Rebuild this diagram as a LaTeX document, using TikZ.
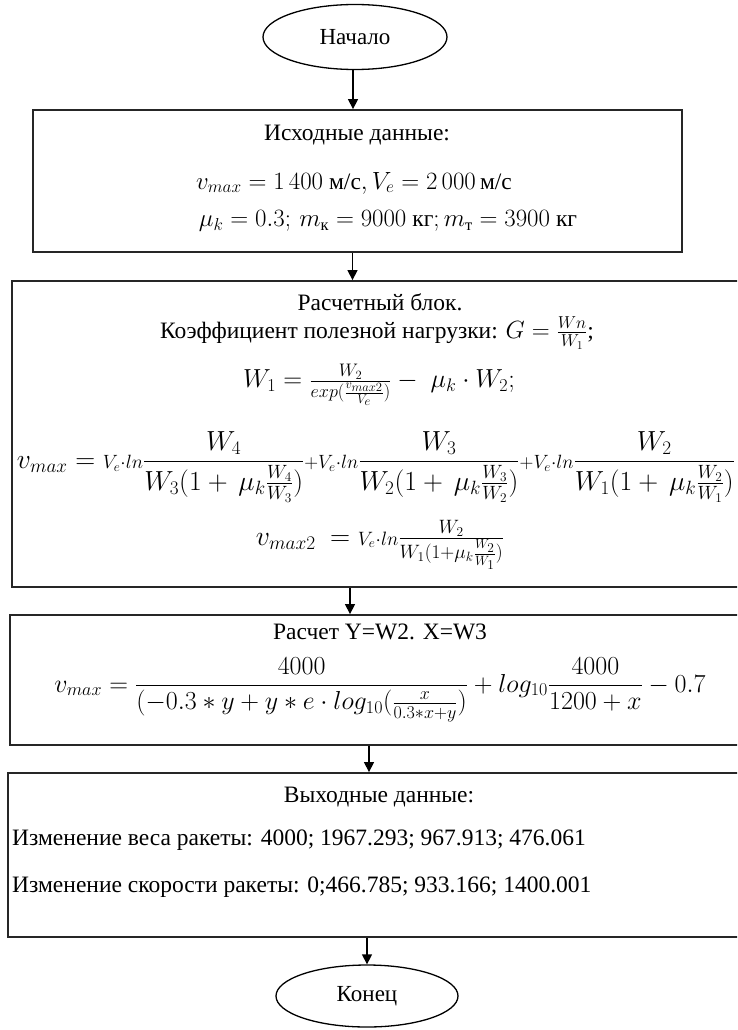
\documentclass[tikz,border=0pt]{standalone}
\usepackage{amsmath}
\usepackage{graphicx}
\usepackage{fontspec}
\setmainfont{Liberation Serif}
\usetikzlibrary{arrows.meta,positioning,shapes.geometric}

\begin{document}
\begin{tikzpicture}[x=1pt, y=-1pt,
  term/.style={ellipse, draw, line width=1.3pt, inner sep=0pt, font=\fontsize{23}{27}\selectfont},
  blok/.style={draw=black!85, line width=1.8pt, inner sep=0pt},
  txt/.style={inner sep=0pt, font=\fontsize{23.5}{28}\selectfont},
  flow/.style={-{Triangle[length=10pt,width=10pt]}, line width=1.3pt}]
\useasboundingbox (0,0) rectangle (737,1030);
\clip (0,0) rectangle (737,1030);

% Start and end
\node[term, minimum width=184pt, minimum height=65pt] (start) at (355,37) {Начало};
\node[term, minimum width=182pt, minimum height=62pt] (stop) at (367,996) {Конец};

% Blocks
\node[blok, minimum width=649pt, minimum height=142pt] (in) at (357.5,181) {};
\node[blok, minimum width=736pt, minimum height=306pt] (calc) at (380,434) {};
\node[blok, minimum width=740pt, minimum height=130pt] (run) at (380,680) {};
\node[blok, minimum width=742pt, minimum height=164pt] (out) at (379,855) {};

% Input data
\node[txt] (in1) at (357,135) {Исходные данные:};
\node[txt] (in2) at (354,183) {$v_{max} = 1\,400\ \text{м/с}, V_e = 2\,000\,\text{м/с}$};
\node[txt] (in3) at (388,221) {$\mu_k = 0.3;\, m_{\text{к}} = 9000\ \text{кг}; m_{\text{т}} = 3900\ \text{кг}$};

% Calculation block
\node[txt] (c1) at (380,302) {Расчетный блок.};
\node[txt] (c2) at (377,333) {Коэффициент полезной нагрузки: $G = \frac{Wn}{W_1}$;};
\node[txt] (c3) at (379,385) {\scalebox{1.05}{$W_1 = \frac{W_2}{exp(\frac{v_{max2}}{V_e})} - \;\mu_k \cdot W_2;$}};
\node[txt] (c4) at (376,467) {\resizebox{718pt}{!}{$v_{max} = {\scriptstyle V_e\cdot ln}\dfrac{W_4}{W_3(1+\,\mu_k\frac{W_4}{W_3})}
  {\scriptstyle +V_e\cdot ln}\dfrac{W_3}{W_2(1+\,\mu_k\frac{W_3}{W_2})}
  {\scriptstyle +V_e\cdot ln}\dfrac{W_2}{W_1(1+\,\mu_k\frac{W_2}{W_1})}$}};
\node[txt] (c5) at (380,545) {\scalebox{1.12}{$v_{max2}\ = {\scriptstyle V_e\cdot ln}\frac{W_2}{W_1(1+\mu_k\frac{W_2}{W_1})}$}};

% Run block
\node[txt] (r1) at (380,632) {Расчет Y=W2. X=W3};
\node[txt] (r2) at (380,690) {\resizebox{651pt}{!}{$v_{max} = \dfrac{4000}{(-0.3 * y + y * e\cdot log_{10}(\frac{x}{0.3*x+y})} + log_{10}\dfrac{4000}{1200+x} - 0.7$}};

% Output data
\node[txt] (o1) at (379,797) {Выходные данные:};
\node[txt, anchor=west] (o2) at (12,840) {Изменение веса ракеты: 4000; 1967.293; 967.913; 476.061};
\node[txt, anchor=west] (o3) at (12,887) {Изменение скорости ракеты: 0;466.785; 933.166; 1400.001};

% Arrows
\draw[flow] ([xshift=-2pt]start.south) -- ([xshift=-2pt]start.south |- in.north);
\draw[flow] ([xshift=-5pt]in.south) -- ([xshift=-5pt]in.south |- calc.north);
\draw[flow] ([xshift=-30pt]calc.south) -- ([xshift=-30pt]calc.south |- run.north);
\draw[flow] ([xshift=-11pt]run.south) -- ([xshift=-11pt]run.south |- out.north);
\draw[flow] (out.south -| stop) -- (stop.north);
\end{tikzpicture}
\end{document}
